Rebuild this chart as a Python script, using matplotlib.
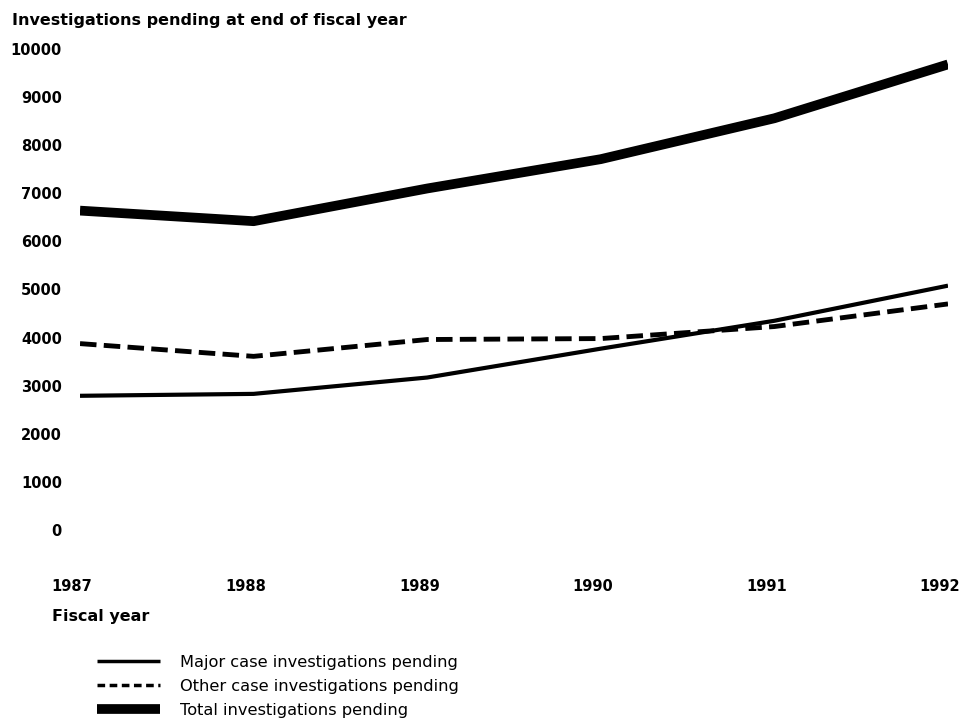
import matplotlib
matplotlib.use("Agg")
import matplotlib.pyplot as plt
from matplotlib.lines import Line2D
from matplotlib.transforms import ScaledTranslation

plt.rcParams['font.family'] = ['DejaVu Sans']

years = [1987, 1988, 1989, 1990, 1991, 1992]
major = [2790, 2830, 3170, 3770, 4350, 5080]
other = [3875, 3610, 3960, 3980, 4230, 4700]
total = [6640, 6420, 7100, 7710, 8560, 9680]
yticks = [0, 1000, 2000, 3000, 4000, 5000, 6000, 7000, 8000, 9000, 10000]

W, H = 971, 728
fig = plt.figure(figsize=(W / 100, H / 100), dpi=100)
ax = fig.add_axes([80 / W, 1 - 530 / H, (948 - 80) / W, (530 - 49) / H])

ax.plot(years, total, color='black', lw=7, solid_capstyle='butt', solid_joinstyle='round')
ax.plot(years, major, color='black', lw=3.0, solid_capstyle='butt')
ax.plot(years, other, color='black', lw=3.5, linestyle=(0, (3.4, 1.5)), dash_capstyle='butt')

ax.set_xlim(1987, 1992)
ax.set_ylim(0, 10000)
ax.set_xticks(years)
ax.set_xticklabels([str(y) for y in years])
ax.set_yticks(yticks)
ax.set_yticklabels([str(v) for v in yticks])
for s in ax.spines.values():
    s.set_visible(False)
ax.tick_params(axis='both', length=0, labelsize=10.5)
ax.tick_params(axis='y', pad=13)
ax.tick_params(axis='x', pad=35)
for lab in ax.get_xticklabels() + ax.get_yticklabels():
    lab.set_fontweight('bold')
for lab in ax.get_xticklabels():
    lab.set_transform(lab.get_transform() + ScaledTranslation(-0.08, 0, fig.dpi_scale_trans))

fig.text(12 / W, 1 - 20 / H, 'Investigations pending at end of fiscal year',
         fontsize=11.5, fontweight='bold', ha='left', va='center')
fig.text(52 / W, 1 - 616 / H, 'Fiscal year', fontsize=11.5, fontweight='bold',
         ha='left', va='center')

handles = [
    Line2D([], [], color='black', lw=2.5, solid_capstyle='butt'),
    Line2D([], [], color='black', lw=2.5, linestyle=(0, (2.2, 1.3)), dash_capstyle='butt'),
    Line2D([], [], color='black', lw=7, solid_capstyle='butt'),
]
labels = ['Major case investigations pending',
          'Other case investigations pending',
          'Total investigations pending']
fig.legend(handles, labels, loc='upper left', bbox_to_anchor=(97 / W, 1 - 655 / H),
           frameon=False, fontsize=11.7, handlelength=3.9, handletextpad=1.2,
           labelspacing=0.55, borderaxespad=0, borderpad=0)

fig.savefig('out.png', dpi=100, facecolor='white')
